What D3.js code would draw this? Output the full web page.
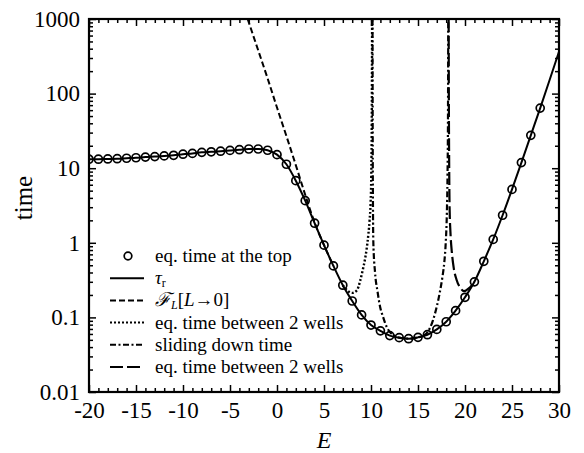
<!DOCTYPE html>
<html>
<head>
<meta charset="utf-8">
<script src="https://cdn.jsdelivr.net/npm/d3@7"></script>
<style>
  body { margin: 0; background: #fff; }
  svg text { font-family: "Liberation Serif", "Times New Roman", serif; }
</style>
</head>
<body>
<script>
// eq. time at the top (circles) and tau_r (solid)
var circleE = d3.range(-20, 29);
var circleT = [13.2, 13.2, 13.3, 13.4, 13.6, 13.8, 14.1, 14.3, 14.6, 14.9,
               15.4, 15.8, 16.3, 16.6, 16.9, 17.3, 17.7, 18.1, 18.1, 17.4,
               15.2, 11.3, 6.8, 3.67, 1.83, 0.93, 0.49, 0.27, 0.166, 0.108,
               0.079, 0.066, 0.057, 0.0535, 0.0518, 0.054, 0.0586, 0.069, 0.0875, 0.123,
               0.186, 0.30, 0.565, 1.11, 2.34, 5.2, 11.9, 27.6, 64];
var tauE = d3.range(-20, 31);
var tauT = circleT.concat([152, 365]);

// F_L[L->0]
var fE = [-3.12, -2, -1, 0, 1, 2, 3, 4, 5, 6];
var fT = [1000, 380, 160, 65, 27, 11, 4.4, 1.87, 0.93, 0.49];

// eq. time between 2 wells (dotted)
var dotE = [7.0, 7.5, 8.0, 8.5, 8.85, 9.1, 9.36, 9.55, 9.72, 9.85, 9.96, 10.03, 10.08, 10.1, 10.12];
var dotT = [0.27, 0.228, 0.213, 0.23, 0.31, 0.42, 0.6, 0.85, 1.3, 2.0, 3.5, 8, 40, 150, 1000];

// sliding down time (dash-dot)
var slideE = [10.16, 10.18, 10.21, 10.25, 10.43, 10.7, 10.96, 11.3, 11.66, 12.0, 12.5, 13, 14, 15, 15.5,
              16.0, 16.6, 17.0, 17.3, 17.6, 17.8, 17.95, 18.07, 18.14, 18.19, 18.22];
var slideT = [1000, 30, 3, 1.0, 0.4, 0.22, 0.14, 0.1, 0.075, 0.064, 0.057, 0.0535, 0.0518, 0.054, 0.056,
              0.063, 0.092, 0.14, 0.21, 0.35, 0.55, 1.0, 2.5, 8, 50, 1000];

// eq. time between 2 wells (long dash)
var longE = [18.26, 18.28, 18.31, 18.36, 18.45, 18.6, 18.8, 19.1, 19.5, 19.9, 20.4, 21.0];
var longT = [1000, 100, 15, 3, 1.4, 0.75, 0.46, 0.32, 0.25, 0.225, 0.245, 0.30];

var xMajor = [-20, -15, -10, -5, 0, 5, 10, 15, 20, 25, 30];
var yMajor = [0.01, 0.1, 1, 10, 100, 1000];
var yLabels = ["0.01", "0.1", "1", "10", "100", "1000"];

var legendItems = ["eq. time at the top", "tau", "FL", "eq. time between 2 wells",
                   "sliding down time", "eq. time between 2 wells"];

var serif = "Liberation Serif, Times New Roman, serif";
var W = 584, H = 453;
var margin = {top: 19, right: 25, bottom: 61, left: 89};
var width = W - margin.left - margin.right;
var height = H - margin.top - margin.bottom;

var svg = d3.select("body").append("svg")
    .attr("width", W)
    .attr("height", H)
    .attr("font-family", serif);

var g = svg.append("g")
    .attr("transform", "translate(" + margin.left + "," + margin.top + ")");

var x = d3.scaleLinear().domain([-20, 30]).range([0, width]);
var y = d3.scaleLog().domain([0.01, 1000]).range([height, 0]);

var xMinor = d3.range(-20, 31).filter(function(d) { return d % 5 !== 0; });
var yMinor = [];
[0.01, 0.1, 1, 10, 100].forEach(function(b) {
    for (var k = 2; k <= 9; k++) yMinor.push(b * k);
});

var major = 7, minor = 4;

function styleAxis(sel) {
    sel.attr("font-family", serif);
    sel.select(".domain").remove();
    sel.selectAll("line").attr("stroke", "#000").attr("stroke-width", 1.5);
    sel.selectAll("text").attr("font-size", 23).attr("fill", "#000");
}

// bottom
g.append("g").attr("transform", "translate(0," + height + ")")
    .call(d3.axisBottom(x).tickValues(xMajor).tickSize(-major).tickPadding(10)
        .tickFormat(function(d) { return d < 0 ? "-" + Math.abs(d) : d; }))
    .call(styleAxis);
g.append("g").attr("transform", "translate(0," + height + ")")
    .call(d3.axisBottom(x).tickValues(xMinor).tickSize(-minor).tickFormat(""))
    .call(styleAxis);
// top
g.append("g")
    .call(d3.axisTop(x).tickValues(xMajor).tickSize(-major).tickFormat(""))
    .call(styleAxis);
g.append("g")
    .call(d3.axisTop(x).tickValues(xMinor).tickSize(-minor).tickFormat(""))
    .call(styleAxis);
// left
g.append("g")
    .call(d3.axisLeft(y).tickValues(yMajor).tickSize(-major).tickPadding(9)
        .tickFormat(function(d, i) { return yLabels[i]; }))
    .call(styleAxis);
g.append("g")
    .call(d3.axisLeft(y).tickValues(yMinor).tickSize(-minor).tickFormat(""))
    .call(styleAxis);
// right
g.append("g").attr("transform", "translate(" + width + ",0)")
    .call(d3.axisRight(y).tickValues(yMajor).tickSize(-major).tickFormat(""))
    .call(styleAxis);
g.append("g").attr("transform", "translate(" + width + ",0)")
    .call(d3.axisRight(y).tickValues(yMinor).tickSize(-minor).tickFormat(""))
    .call(styleAxis);

g.append("rect")
    .attr("width", width).attr("height", height)
    .attr("fill", "none").attr("stroke", "#000").attr("stroke-width", 2.2);

// axis titles
g.append("text")
    .attr("x", width / 2).attr("y", height + 56)
    .attr("text-anchor", "middle")
    .attr("font-size", 24).attr("font-style", "italic")
    .text("E");

g.append("text")
    .attr("transform", "rotate(-90)")
    .attr("x", -(198 - margin.top)).attr("y", -57)
    .attr("text-anchor", "middle")
    .attr("font-size", 25)
    .text("time");

// curves
g.append("clipPath").attr("id", "clip")
    .append("rect").attr("width", width).attr("height", height);

var plot = g.append("g").attr("clip-path", "url(#clip)");

var line = d3.line()
    .x(function(d) { return x(d[0]); })
    .y(function(d) { return y(d[1]); })
    .curve(d3.curveMonotoneX);

function zip(a, b) { return a.map(function(v, i) { return [v, b[i]]; }); }

var series = [
    {e: fE, t: fT, dash: "6,3", w: 2},
    {e: dotE, t: dotT, dash: "2,2", w: 2.4},
    {e: slideE, t: slideT, dash: "6,2.5,2,2.5", w: 2.2},
    {e: longE, t: longT, dash: "13,4", w: 2.2},
    {e: tauE, t: tauT, dash: null, w: 2}
];

series.forEach(function(s) {
    plot.append("path")
        .datum(zip(s.e, s.t))
        .attr("fill", "none")
        .attr("stroke", "#000")
        .attr("stroke-width", s.w)
        .attr("stroke-dasharray", s.dash)
        .attr("d", line);
});

plot.selectAll("circle.top")
    .data(zip(circleE, circleT))
    .enter()
    .append("circle")
    .attr("class", "top")
    .attr("cx", function(d) { return x(d[0]); })
    .attr("cy", function(d) { return y(d[1]); })
    .attr("r", 4)
    .attr("fill", "none")
    .attr("stroke", "#000")
    .attr("stroke-width", 1.7);

// legend
var legend = svg.append("g").attr("transform", "translate(110,256)");
var rowH = 22.2;
var dashes = [null, null, "6,3", "2,2", "6,2.5,2,2.5", "13,4"];

legendItems.forEach(function(label, i) {
    var row = legend.append("g").attr("transform", "translate(0," + (i * rowH) + ")");
    if (i === 0) {
        row.append("circle").attr("cx", 18).attr("cy", 0).attr("r", 3.8)
            .attr("fill", "none").attr("stroke", "#000").attr("stroke-width", 1.7);
    } else {
        row.append("line").attr("x1", 0).attr("x2", 34).attr("y1", 0).attr("y2", 0)
            .attr("stroke", "#000").attr("stroke-width", 2)
            .attr("stroke-dasharray", dashes[i]);
    }
    var t = row.append("text").attr("x", 45).attr("y", 6)
        .attr("font-size", 19).attr("font-family", serif);
    if (label === "tau") {
        t.append("tspan").attr("font-style", "italic").text("\u03C4");
        t.append("tspan").attr("font-size", 12).attr("dy", 3).text("r");
    } else if (label === "FL") {
        t.append("tspan").attr("font-style", "italic").text("\u2131");
        t.append("tspan").attr("font-size", 12).attr("dy", 3).attr("font-style", "italic").text("L");
        t.append("tspan").attr("dy", -3).text("[");
        t.append("tspan").attr("font-style", "italic").text("L");
        t.append("tspan").text("\u21920]");
    } else {
        t.text(label);
    }
});
</script>
</body>
</html>
